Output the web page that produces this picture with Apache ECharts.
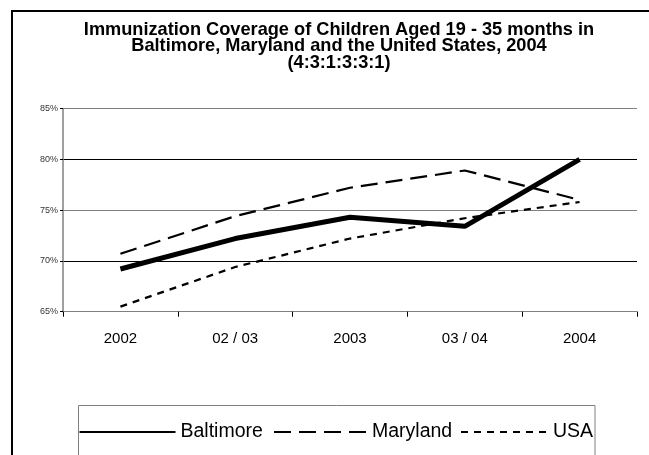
<!DOCTYPE html>
<html>
<head>
<meta charset="utf-8">
<script src="https://cdn.jsdelivr.net/npm/echarts@6/dist/echarts.min.js"></script>
<style>
html,body{margin:0;padding:0;background:#fff;}
#chart{width:649px;height:455px;}
</style>
</head>
<body>
<div id="chart"></div>
<script>
var categories = ['2002', '02 / 03', '2003', '03 / 04', '2004'];
var baltimore = [69.2, 72.2, 74.3, 73.4, 80.0];
var maryland = [70.7, 74.4, 77.2, 78.9, 76.0];
var usa = [65.5, 69.4, 72.2, 74.2, 75.8];
var seriesNames = ['Baltimore', 'Maryland', 'USA'];
var titleLines = [
  'Immunization Coverage of Children Aged 19 - 35 months in',
  'Baltimore, Maryland and the United States, 2004',
  '(4:3:1:3:3:1)'
];

var legendLefts = [78.5, 273, 460];
var legendWidths = [96, 93, 87];

function makeLegend(i) {
  return {
    left: legendLefts[i],
    top: 422,
    orient: 'horizontal',
    itemWidth: legendWidths[i],
    itemHeight: 14,
    itemGap: 0,
    padding: 0,
    itemStyle: {opacity: 0, borderWidth: 0},
    textStyle: {fontSize: 19.5, color: '#000', fontFamily: 'Arial'},
    data: [seriesNames[i]]
  };
}

var chart = echarts.init(document.getElementById('chart'), null, {renderer: 'canvas'});
chart.setOption({
  animation: false,
  backgroundColor: '#fff',
  graphic: [
    {
      type: 'rect',
      shape: {x: 12, y: 11, width: 700, height: 500},
      style: {fill: 'none', stroke: '#000', lineWidth: 2},
      silent: true,
      z: 0
    },
    {
      type: 'rect',
      shape: {x: 78.5, y: 405.5, width: 516.5, height: 80},
      style: {fill: '#fff', stroke: '#808080', lineWidth: 1},
      silent: true,
      z: 0
    },
    {
      type: 'text',
      x: 339,
      y: 21.5,
      style: {
        text: titleLines.join('\n'),
        fill: '#000',
        font: 'bold 18.2px Arial',
        lineHeight: 16.5,
        align: 'center',
        verticalAlign: 'top'
      },
      z: 10
    }
  ],
  grid: {left: 63, right: 12, top: 108.5, bottom: 143.3, containLabel: false},
  xAxis: {
    type: 'category',
    data: categories,
    boundaryGap: true,
    axisLine: {lineStyle: {color: '#808080', width: 1}},
    axisTick: {show: true, length: 5, alignWithLabel: false, lineStyle: {color: '#000'}},
    axisLabel: {margin: 20, color: '#000', fontSize: 15, fontFamily: 'Arial'},
    splitLine: {show: false}
  },
  yAxis: {
    type: 'value',
    min: 65,
    max: 85,
    interval: 5,
    axisLine: {show: true, lineStyle: {color: '#808080', width: 1.5}},
    axisTick: {show: true, length: 3, lineStyle: {color: '#000'}},
    axisLabel: {formatter: '{value}%', fontSize: 9, color: '#333', margin: 5, fontFamily: 'Arial'},
    splitLine: {show: true, lineStyle: {color: ['#808080', '#000'], width: 1}}
  },
  legend: [makeLegend(0), makeLegend(1), makeLegend(2)],
  series: [
    {
      name: seriesNames[0],
      type: 'line',
      data: baltimore,
      symbol: 'none',
      lineStyle: {color: '#000', width: 5, type: 'solid', cap: 'butt'},
      itemStyle: {color: '#000'},
      z: 3
    },
    {
      name: seriesNames[1],
      type: 'line',
      data: maryland,
      symbol: 'none',
      lineStyle: {color: '#000', width: 2.2, type: [17, 8]},
      itemStyle: {color: '#000'},
      z: 2
    },
    {
      name: seriesNames[2],
      type: 'line',
      data: usa,
      symbol: 'none',
      lineStyle: {color: '#000', width: 2.2, type: [7, 6]},
      itemStyle: {color: '#000'},
      z: 2
    }
  ]
});
</script>
</body>
</html>
